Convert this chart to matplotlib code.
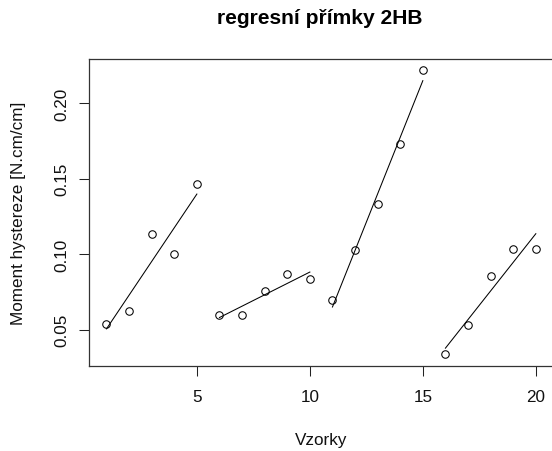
import numpy as np
import matplotlib
matplotlib.use("Agg")
import matplotlib.pyplot as plt

plt.rcParams['font.family'] = ['Liberation Sans', 'DejaVu Sans']

samples = list(range(1, 21))
moment = [0.054, 0.0622, 0.1133, 0.1005, 0.1464,
          0.0596, 0.0600, 0.0756, 0.0873, 0.0836,
          0.0696, 0.1027, 0.1333, 0.1729, 0.2218,
          0.0338, 0.0529, 0.0856, 0.1033, 0.1033]
groups = [(0, 5), (5, 10), (10, 15), (15, 20)]
xticks = [5, 10, 15, 20]
yticks = [0.05, 0.10, 0.15, 0.20]
ytick_labels = ["0.05", "0.10", "0.15", "0.20"]

W, H = 552, 452
fig = plt.figure(figsize=(W / 100, H / 100), dpi=100)
left, right, top, bottom = 89.3, 553.0, 60.0, 366.7
ax = fig.add_axes([left / W, (H - bottom) / H, (right - left) / W, (bottom - top) / H])

x = np.array(samples, dtype=float)
y = np.array(moment)
ax.plot(x, y, linestyle='none', marker='o', markersize=5.4,
        markerfacecolor='none', markeredgecolor='black', markeredgewidth=0.75)
for a, b in groups:
    xs, ys = x[a:b], y[a:b]
    k, q = np.polyfit(xs, ys, 1)
    ax.plot(xs, k * xs + q, color='black', linewidth=0.75)

xr = x.max() - x.min()
yr = y.max() - y.min()
ax.set_xlim(x.min() - 0.04 * xr, x.max() + 0.04 * xr)
ax.set_ylim(y.min() - 0.04 * yr, y.max() + 0.04 * yr)

ax.set_xticks(xticks)
ax.set_xticklabels([str(t) for t in xticks])
ax.set_yticks(yticks)
ax.set_yticklabels(ytick_labels, rotation=90, va='center')
ax.tick_params(axis='both', length=7.5, width=0.75, labelsize=12.3, colors='#222222', labelcolor='#111111')
ax.tick_params(axis='x', pad=9)
ax.tick_params(axis='y', pad=7)
for s in ax.spines.values():
    s.set_linewidth(0.9)
    s.set_color('#333333')

fig.text(320 / W, 1 - 19 / H, "regresní přímky 2HB", ha='center', va='center',
         fontsize=15.1, fontweight='bold')
fig.text(321 / W, 1 - 441 / H, "Vzorky", ha='center', va='center', fontsize=12.3, color='#111111')
fig.text(19 / W, 1 - 213 / H, "Moment hystereze [N.cm/cm]", ha='center', va='center',
         fontsize=12.3, rotation=90, color='#111111')

fig.savefig("out.png", dpi=100)
